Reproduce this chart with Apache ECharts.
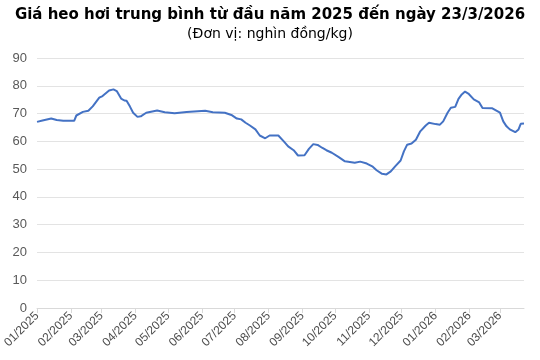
<!DOCTYPE html>
<html>
<head>
<meta charset="utf-8">
<script src="https://cdn.jsdelivr.net/npm/echarts@6/dist/echarts.min.js"></script>
<style>html,body{margin:0;padding:0;background:#fff;}#c{width:540px;height:360px;}</style>
</head>
<body>
<div id="c"></div>
<script>
// days since 01/01/2025
var dayIndex = [0,5,13,18,24,34,36,42,47,51,57,60,66,70,73,77,80,82,85,88,92,95,100,110,117,126,137,154,161,172,178,183,187,191,195,200,204,209,213,221,226,230,235,239,245,249,253,257,261,265,270,276,282,291,296,302,307,311,316,320,324,328,333,336,339,343,347,351,356,359,365,369,372,376,379,383,386,389,392,395,400,405,408,417,424,427,430,433,438,441,443,446];
var prices = [67.0,67.5,68.2,67.7,67.4,67.4,69.3,70.6,71.0,72.6,75.7,76.3,78.3,78.7,78.1,75.4,74.7,74.6,72.6,70.3,68.8,69.0,70.3,71.1,70.5,70.1,70.6,71.0,70.5,70.3,69.5,68.2,67.9,66.7,65.7,64.3,62.1,61.1,62.1,62.1,60.0,58.2,56.8,54.9,55.0,57.3,59.0,58.7,57.7,56.8,55.9,54.4,52.8,52.3,52.7,52.0,51.0,49.6,48.3,48.1,49.2,51.0,53.1,56.4,58.8,59.2,60.6,63.6,65.7,66.7,66.2,66.0,67.2,70.3,72.1,72.4,75.3,76.9,77.9,77.2,75.1,74.0,72.0,71.9,70.3,67.2,65.4,64.3,63.3,64.3,66.3,66.4];
var monthStarts = [0,31,59,90,120,151,181,212,243,273,304,334,365,396,424];
var monthLabels = ['01/2025','02/2025','03/2025','04/2025','05/2025','06/2025','07/2025','08/2025','09/2025','10/2025','11/2025','12/2025','01/2026','02/2026','03/2026'];
var yTicks = [0,10,20,30,40,50,60,70,80,90];

var seriesData = dayIndex.map(function(d,i){return [d, prices[i]];});
var chart = echarts.init(document.getElementById('c'), null, {renderer:'canvas'});
chart.setOption({
  animation:false,
  title:{
    text:'Giá heo hơi trung bình từ đầu năm 2025 đến ngày 23/3/2026',
    subtext:'(Đơn vị: nghìn đồng/kg)',
    left:'center', top:3, itemGap:4,
    textStyle:{fontFamily:'DejaVu Sans',fontSize:15,fontWeight:'bold',color:'#000'},
    subtextStyle:{fontFamily:'DejaVu Sans',fontSize:14,color:'#000'}
  },
  grid:{left:37,right:16,top:58,bottom:52,containLabel:false},
  xAxis:{
    type:'value', min:0, max:446,
    axisLine:{show:true,lineStyle:{color:'#d9d9d9'}},
    axisTick:{show:true,customValues:monthStarts,length:5,lineStyle:{color:'#d9d9d9'}},
    splitLine:{show:false},
    axisLabel:{
      customValues:monthStarts, rotate:45, fontFamily:'Liberation Sans', fontSize:12, color:'#4d4d4d', margin:6,
      formatter:function(v){var i=monthStarts.indexOf(v);return i>=0?monthLabels[i]:'';}
    }
  },
  yAxis:{
    type:'value', min:0, max:90, interval:10,
    axisLine:{show:false}, axisTick:{show:false},
    splitLine:{lineStyle:{color:'#e3e3e3',width:1}},
    axisLabel:{fontFamily:'Liberation Sans',fontSize:13,color:'#595959',margin:10,
      formatter:function(v){return yTicks.indexOf(v)>=0?String(v):'';}}
  },
  series:[{
    type:'line', data:seriesData, showSymbol:false, smooth:false,
    lineStyle:{color:'#4472C4',width:2}
  }]
});
</script>
</body>
</html>
